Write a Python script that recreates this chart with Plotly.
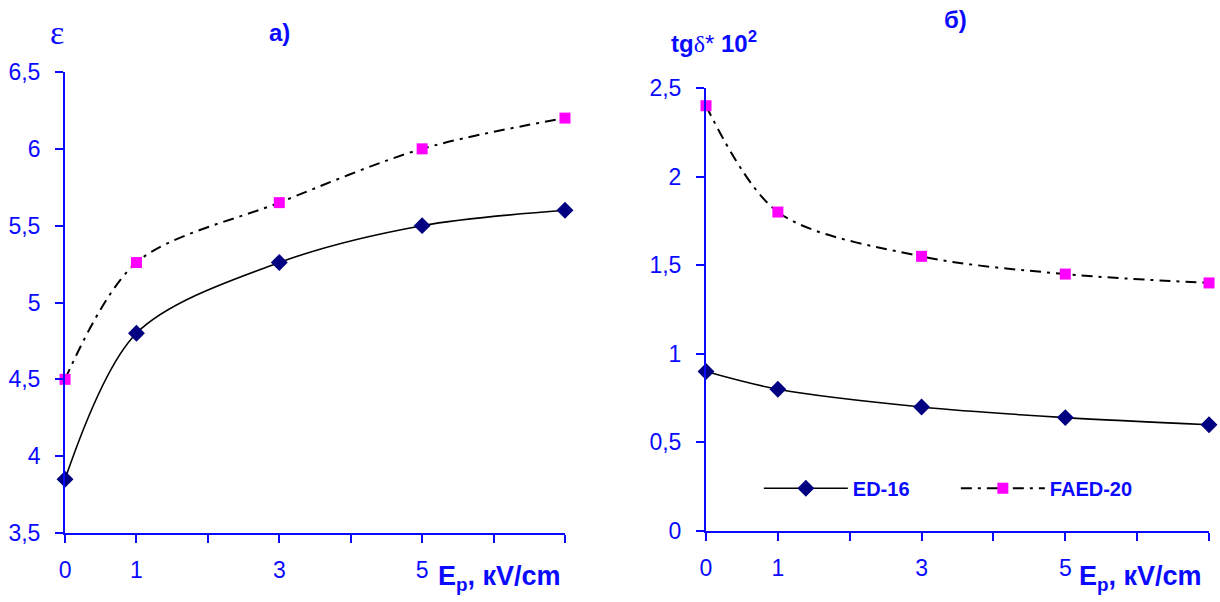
import plotly.graph_objects as go

# Field strength E_p, kV/cm
field = [0, 1, 3, 5, 7]

# Dielectric permittivity
eps_ed16 = [3.85, 4.80, 5.26, 5.50, 5.60]
eps_faed20 = [4.50, 5.26, 5.65, 6.00, 6.20]

# Loss tangent, tg(delta) * 10^2
tg_ed16 = [0.90, 0.80, 0.70, 0.64, 0.60]
tg_faed20 = [2.40, 1.80, 1.55, 1.45, 1.40]

x_tickvals = [0, 1, 2, 3, 4, 5, 6, 7]
x_ticktext = ["0", "1", "", "3", "", "5", "", ""]
eps_tickvals = [3.5, 4, 4.5, 5, 5.5, 6, 6.5]
eps_ticktext = ["3,5", "4", "4,5", "5", "5,5", "6", "6,5"]
tg_tickvals = [0, 0.5, 1, 1.5, 2, 2.5]
tg_ticktext = ["0", "0,5", "1", "1,5", "2", "2,5"]

BLUE = "#0a0aff"
FONT = "Liberation Sans, Arial, sans-serif"
SERIF = "Liberation Serif, Times New Roman, serif"

fig = go.Figure()

ed_line = dict(color="black", width=1.6, shape="spline", smoothing=0.9)
fa_line = dict(color="black", width=2, dash="11px,6px,3px,6px", shape="spline", smoothing=0.9)
ed_marker = dict(symbol="diamond", size=13, color="#000080")
fa_marker = dict(symbol="square", size=11, color="#ff00ff")

fig.add_trace(go.Scatter(x=field, y=eps_ed16, mode="lines+markers", line=ed_line,
                         marker=ed_marker, xaxis="x", yaxis="y", showlegend=False,
                         cliponaxis=False))
fig.add_trace(go.Scatter(x=field, y=eps_faed20, mode="lines+markers", line=fa_line,
                         marker=fa_marker, xaxis="x", yaxis="y", showlegend=False,
                         cliponaxis=False))
fig.add_trace(go.Scatter(x=field, y=tg_ed16, mode="lines+markers", line=ed_line,
                         marker=ed_marker, xaxis="x2", yaxis="y2", name="ED-16",
                         cliponaxis=False))
fig.add_trace(go.Scatter(x=field, y=tg_faed20, mode="lines+markers", line=fa_line,
                         marker=fa_marker, xaxis="x2", yaxis="y2", name="FAED-20",
                         cliponaxis=False))

xaxis_common = dict(
    range=[0, 7], tickvals=x_tickvals, ticktext=x_ticktext, automargin=False,
    showline=True, linecolor=BLUE, linewidth=2, showgrid=False, zeroline=False,
    ticks="outside", ticklen=8, tickwidth=2, tickcolor=BLUE,
    tickfont=dict(family=FONT, size=23, color=BLUE), ticklabelstandoff=7,
)
yaxis_common = dict(
    showline=True, linecolor=BLUE, linewidth=2, showgrid=False, zeroline=False,
    ticks="outside", ticklen=8, tickwidth=2, tickcolor=BLUE, automargin=False,
    tickfont=dict(family=FONT, size=23, color=BLUE), ticklabelstandoff=10,
)

fig.update_layout(
    width=1220, height=602,
    margin=dict(l=0, r=0, t=0, b=0),
    paper_bgcolor="white", plot_bgcolor="white",
    xaxis=dict(domain=[0.0533, 0.4631], anchor="y", **xaxis_common),
    yaxis=dict(domain=[0.1146, 0.8804], anchor="x", range=[3.5, 6.5],
               tickvals=eps_tickvals, ticktext=eps_ticktext, **yaxis_common),
    xaxis2=dict(domain=[0.5787, 0.9910], anchor="y2", **xaxis_common),
    yaxis2=dict(domain=[0.1179, 0.8538], anchor="x2", range=[0, 2.5],
                tickvals=tg_tickvals, ticktext=tg_ticktext, **yaxis_common),
    legend=dict(
        orientation="h", x=0.622, y=0.189, xanchor="left", yanchor="middle",
        bgcolor="rgba(0,0,0,0)",
        font=dict(family=FONT, size=20, color=BLUE, weight="bold"),
        entrywidth=98, entrywidthmode="pixels", itemwidth=84,
    ),
    font=dict(family=FONT, color=BLUE),
)

annotations = [
    dict(text=f"<span style='font-family:{SERIF}'>ε</span>", x=57 / 1220, y=1 - 33 / 602,
         font=dict(size=34)),
    dict(text="<b>a)</b>", x=279 / 1220, y=1 - 33 / 602, font=dict(size=24)),
    dict(text="<b>б)</b>", x=955 / 1220, y=1 - 20 / 602, font=dict(size=24)),
    dict(text=f"<b>tg</b><span style='font-family:{SERIF}'>δ</span>* <b>10<sup>2</sup></b>",
         x=714 / 1220, y=1 - 42 / 602, font=dict(size=24)),
    dict(text="<b>E<sub>p</sub>, кV/cm</b>", x=436 / 1220, y=1 - 578 / 602,
         xanchor="left", font=dict(size=27)),
    dict(text="<b>E<sub>p</sub>, кV/cm</b>", x=1077 / 1220, y=1 - 578 / 602,
         xanchor="left", font=dict(size=27)),
]
for a in annotations:
    a.setdefault("xanchor", "center")
    a.update(xref="paper", yref="paper", yanchor="middle", showarrow=False)
    a["font"] = dict(family=FONT, color=BLUE, **a["font"])
fig.update_layout(annotations=annotations)

fig.write_html("out.html", post_script="document.body.style.margin='0';")
